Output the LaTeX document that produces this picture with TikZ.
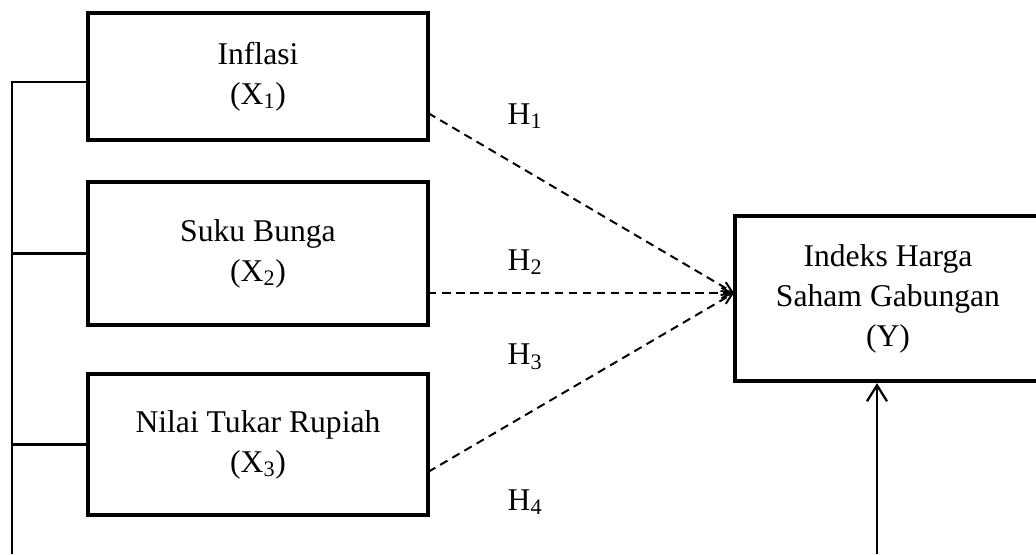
\documentclass[tikz,border=0pt]{standalone}
\usepackage{fontspec}
\setmainfont{Liberation Serif}
\usepackage{tikz}
\usetikzlibrary{arrows.meta}

\tikzset{
	varbox/.style={draw, line width=3pt, align=center, inner sep=0pt,
		font=\fontsize{22.5}{28.4}\selectfont},
	hlabel/.style={font=\fontsize{22.5}{28.4}\selectfont},
	linea/.style={line width=1.6pt},
	ipotesi/.style={line width=1.4pt, dash pattern=on 6pt off 4pt,
		-{Straight Barb[length=2.6mm,width=2.6mm]}}
}

\begin{document}
\begin{tikzpicture}[x=0.025cm, y=-0.025cm]
		\useasboundingbox (0,0) rectangle (1036,554); % Cornice dell'immagine
		
		% Variabili indipendenti
		\node[varbox, minimum width=8.5cm, minimum height=3.175cm] (x1) at (258,76.5) {Inflasi\\(X\textsubscript{1})};
		\node[varbox, minimum width=8.5cm, minimum height=3.575cm] (x2) at (258,253.5) {Suku Bunga\\(X\textsubscript{2})};
		\node[varbox, minimum width=8.5cm, minimum height=3.525cm] (x3) at (258,444.5) {Nilai Tukar Rupiah\\(X\textsubscript{3})};
		
		% Variabile dipendente
		\node[varbox, minimum width=7.65cm, minimum height=4.125cm] (y) at (888,298.5) {Indeks Harga\\Saham Gabungan\\(Y)};
		
		% Punti di partenza e di arrivo delle frecce
		\coordinate (p1) at (428,113);
		\coordinate (p2) at (428,293);
		\coordinate (p3) at (428,472);
		\coordinate (hit) at (734,293);
		\coordinate (bus) at (12,554); % Fondo della linea a sinistra
		\coordinate (base) at (877,554); % Fondo della freccia verticale
		
		% Linea che unisce le X
		\draw[linea] (x1.west |- 0,82) -| (bus);
		\draw[linea] (x2.west) -- (x2.west -| bus);
		\draw[linea] (x3.west) -- (x3.west -| bus);
		
		% Frecce tratteggiate
		\draw[ipotesi] (p1) -- (hit);
		\draw[ipotesi] (p2) -- (hit);
		\draw[ipotesi] (p3) -- (hit);
		
		% Freccia verticale verso Y
		\draw[linea, -{Straight Barb[length=4mm,width=5mm]}] (base) -- (base |- y.south);
		
		% Etichette delle ipotesi
		\node[hlabel] (h1) at (525,116) {H\textsubscript{1}};
		\node[hlabel] (h2) at (525,262) {H\textsubscript{2}};
		\node[hlabel] (h3) at (525,357) {H\textsubscript{3}};
		\node[hlabel] (h4) at (525,502) {H\textsubscript{4}};
	\end{tikzpicture}
\end{document}
